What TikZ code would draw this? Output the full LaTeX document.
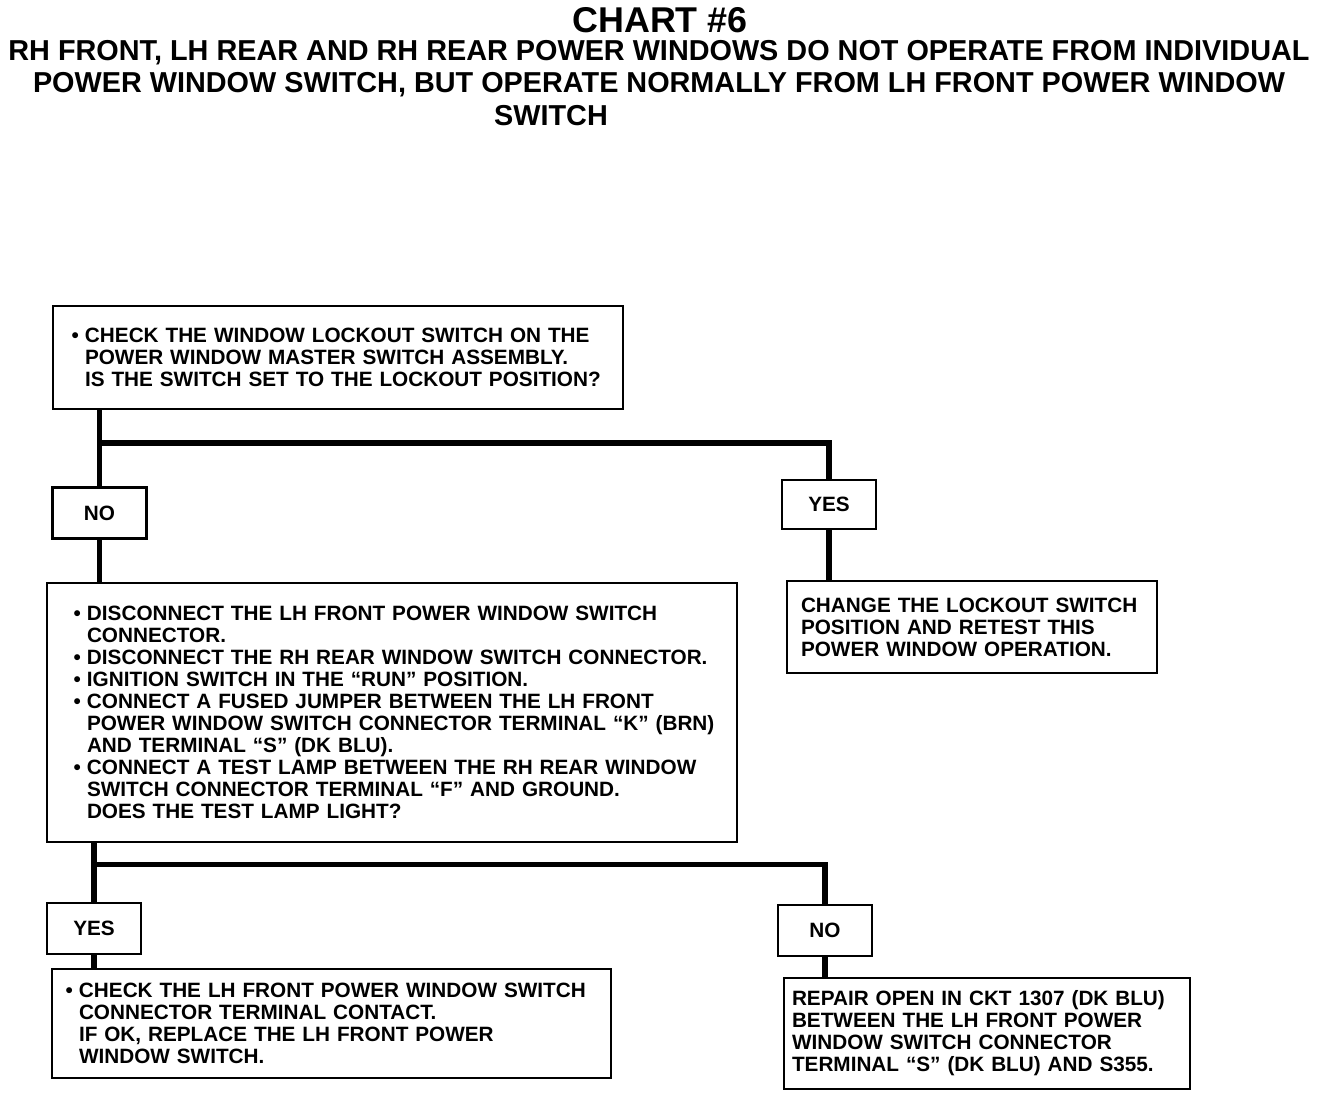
\documentclass[tikz,border=0pt]{standalone}
\usepackage{fontspec}
\setmainfont{Liberation Sans}
\usetikzlibrary{calc}

\newcommand{\bodyfont}{\fontsize{11.8}{12.5}\selectfont\bfseries}
\newcommand{\li}[1]{\mbox{#1}}
\newcommand{\bi}[1]{\mbox{\llap{•\hspace{3.5pt}}#1}}

\begin{document}
\begin{tikzpicture}[
  box/.style={draw,line width=1.6pt,inner sep=0pt,align=left,font=\bodyfont},
  tag/.style={draw,line width=1.6pt,inner sep=0pt,minimum width=1.88cm,minimum height=1.02cm,font=\bodyfont},
  link/.style={line width=3pt}]
  \useasboundingbox (0,0) rectangle (26.56,-22);
  % heading
  \node[font=\fontsize{20.4}{24}\selectfont\bfseries] (title) at (13.2,-0.4) {CHART \#6};
  \node[font=\fontsize{16.4}{18.1}\selectfont\bfseries,align=center] (subAB) at (13.18,-1.38)
    {RH FRONT, LH REAR AND RH REAR POWER WINDOWS DO NOT OPERATE FROM INDIVIDUAL\\
     POWER WINDOW SWITCH, BUT OPERATE NORMALLY FROM LH FRONT POWER WINDOW};
  \node[font=\fontsize{16.4}{18.1}\selectfont\bfseries] (subC) at (11.02,-2.32) {SWITCH};
  % first check
  \node[box,minimum width=11.4cm,minimum height=2.06cm,text width=10.12cm] (check) at (6.76,-7.15)
    {\bi{CHECK THE WINDOW LOCKOUT SWITCH ON THE}\\
     \li{POWER WINDOW MASTER SWITCH ASSEMBLY.}\\
     \li{IS THE SWITCH SET TO THE LOCKOUT POSITION?}};
  \node[tag] (noA) at (1.99,-10.26) {NO};
  \node[tag,minimum height=0.98cm] (yesA) at (16.58,-10.09) {YES};
  \node[box,minimum width=7.4cm,minimum height=1.84cm,text width=6.84cm] (lockout) at (19.44,-12.54)
    {\li{CHANGE THE LOCKOUT SWITCH}\\
     \li{POSITION AND RETEST THIS}\\
     \li{POWER WINDOW OPERATION.}};
  % test lamp check
  \node[box,minimum width=13.8cm,minimum height=5.18cm,text width=12.2cm] (test) at (7.84,-14.25)
    {\bi{DISCONNECT THE LH FRONT POWER WINDOW SWITCH}\\
     \li{CONNECTOR.}\\
     \bi{DISCONNECT THE RH REAR WINDOW SWITCH CONNECTOR.}\\
     \bi{IGNITION SWITCH IN THE “RUN” POSITION.}\\
     \bi{CONNECT A FUSED JUMPER BETWEEN THE LH FRONT}\\
     \li{POWER WINDOW SWITCH CONNECTOR TERMINAL “K” (BRN)}\\
     \li{AND TERMINAL “S” (DK BLU).}\\
     \bi{CONNECT A TEST LAMP BETWEEN THE RH REAR WINDOW}\\
     \li{SWITCH CONNECTOR TERMINAL “F” AND GROUND.}\\
     \li{DOES THE TEST LAMP LIGHT?}};
  \node[tag] (yesB) at (1.88,-18.57) {YES};
  \node[tag] (noB) at (16.5,-18.61) {NO};
  \node[box,minimum width=11.18cm,minimum height=2.18cm,text width=10.1cm] (contact) at (6.63,-20.47)
    {\bi{CHECK THE LH FRONT POWER WINDOW SWITCH}\\
     \li{CONNECTOR TERMINAL CONTACT.}\\
     \li{IF OK, REPLACE THE LH FRONT POWER}\\
     \li{WINDOW SWITCH.}};
  \node[box,minimum width=8.12cm,minimum height=2.22cm,text width=7.8cm] (repair) at (19.74,-20.67)
    {\li{REPAIR OPEN IN CKT 1307 (DK BLU)}\\
     \li{BETWEEN THE LH FRONT POWER}\\
     \li{WINDOW SWITCH CONNECTOR}\\
     \li{TERMINAL “S” (DK BLU) AND S355.}};
  % connectors
  \path (noA.north) ++(0,0.86) coordinate (forkA);
  \draw[link] (check.south -| forkA) -- (noA.north);
  \draw[link] (forkA) -| (yesA.north);
  \draw[link] (noA.south) -- (noA.south |- test.north);
  \draw[link] (yesA.south) -- (yesA.south |- lockout.north);
  \path (yesB.north) ++(0,0.74) coordinate (forkB);
  \draw[link] (test.south -| forkB) -- (yesB.north);
  \draw[link] (forkB) -| (noB.north);
  \draw[link] (yesB.south) -- (yesB.south |- contact.north);
  \draw[link] (noB.south) -- (noB.south |- repair.north);
\end{tikzpicture}
\end{document}
